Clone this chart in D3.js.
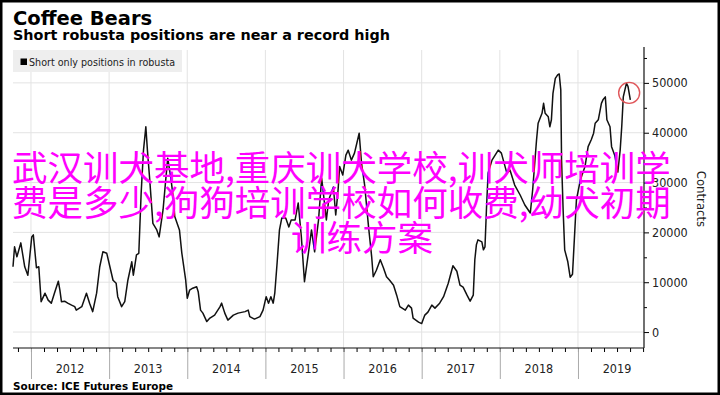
<!DOCTYPE html>
<html>
<head>
<meta charset="utf-8">
<script src="https://d3js.org/d3.v7.min.js"></script>
<style>
body {margin: 0; background: #fff;}
svg {display: block;}
.cond {font-family: "DejaVu Sans Condensed", "DejaVu Sans", sans-serif; font-stretch: condensed;}
</style>
</head>
<body>
<svg id="chart" width="720" height="395"></svg>
<script>
// decimal years of the weekly readings
const years = [
2011.77,2011.79,2011.82,2011.87,2011.92,2011.96,2012.01,2012.03,2012.07,2012.10,
2012.13,2012.18,2012.22,2012.26,2012.30,2012.35,2012.37,2012.39,2012.43,2012.47,
2012.52,2012.56,2012.58,2012.65,2012.71,2012.75,2012.79,2012.84,2012.88,2012.92,
2012.97,2013.01,2013.05,2013.09,2013.11,2013.16,2013.20,2013.24,2013.29,2013.31,
2013.35,2013.38,2013.41,2013.44,2013.47,2013.49,2013.52,2013.56,2013.61,2013.64,
2013.69,2013.73,2013.75,2013.79,2013.82,2013.84,2013.90,2013.93,2013.98,2014.00,
2014.03,2014.07,2014.12,2014.14,2014.17,2014.20,2014.25,2014.29,2014.35,2014.42,
2014.44,2014.48,2014.52,2014.59,2014.65,2014.74,2014.78,2014.80,2014.86,2014.93,
2014.97,2015.01,2015.04,2015.07,2015.10,2015.12,2015.15,2015.18,2015.21,2015.26,
2015.30,2015.33,2015.38,2015.42,2015.46,2015.50,2015.55,2015.59,2015.63,2015.68,
2015.72,2015.78,2015.81,2015.87,2015.90,2015.93,2015.95,2015.99,2016.03,2016.06,
2016.10,2016.14,2016.20,2016.23,2016.27,2016.32,2016.36,2016.38,2016.42,2016.47,
2016.51,2016.55,2016.59,2016.64,2016.68,2016.72,2016.79,2016.83,2016.87,2016.89,
2016.96,2017.00,2017.04,2017.08,2017.13,2017.17,2017.23,2017.28,2017.34,2017.40,
2017.45,2017.49,2017.53,2017.58,2017.62,2017.66,2017.68,2017.70,2017.72,2017.77,
2017.79,2017.81,2017.83,2017.85,2017.90,2017.94,2017.98,2018.02,2018.09,2018.13,
2018.19,2018.26,2018.32,2018.39,2018.42,2018.47,2018.49,2018.54,2018.56,2018.58,
2018.62,2018.64,2018.66,2018.68,2018.71,2018.74,2018.76,2018.78,2018.79,2018.81,
2018.83,2018.87,2018.90,2018.93,2018.96,2018.98,2019.03,2019.09,2019.13,2019.17,
2019.20,2019.22,2019.26,2019.30,2019.32,2019.35,2019.37,2019.41,2019.43,2019.47,
2019.51,2019.54,2019.56,2019.58,2019.62,2019.64,2019.67];

// short only positions in robusta (contracts)
const contracts = [
13100,17100,15100,17900,13100,11400,19100,19500,12900,13100,
6100,7800,6400,5800,7800,10200,8400,6100,6200,5800,
5400,5100,4400,5100,7800,5800,4100,7800,13100,16100,
15800,13100,10400,9800,7100,5100,6100,10400,14100,11400,
15500,15800,27900,36500,41200,36500,30500,21800,20500,19100,
24500,31500,34900,30900,27100,23200,20500,15900,10400,6800,
8400,8800,9100,8100,4400,3800,2100,2800,3400,5100,
5800,3800,2400,3400,3800,4100,4400,3100,2600,3100,
4400,7100,5800,7100,5800,7800,13900,20500,22900,22900,
21100,22500,22500,25900,19100,10100,15800,20500,16100,22500,
30900,22500,26500,29100,23500,28500,33200,31500,35500,36500,
34500,35900,39900,33900,29500,21100,15100,11100,12400,14500,
12900,11100,10400,9400,7400,5100,4400,5400,4800,2800,
2000,1700,3400,4000,5400,4800,5800,7100,9800,13300,
12200,9400,9000,7400,6200,7400,14500,17500,18500,18100,
16500,17100,25100,31900,34500,35500,36500,35900,31900,32500,
29500,27500,25500,23900,28500,38600,41900,43900,45900,43900,
43200,41200,42600,47900,50900,51600,51800,48600,34500,24500,
16500,14100,11000,11600,20500,26500,30500,33200,37200,38600,
39900,41900,42600,45900,46600,47200,42600,41200,37200,35500,
32100,36500,41200,47200,49900,49300,46600];

const yTicks = [0, 10000, 20000, 30000, 40000, 50000];
const yMinorTicks = [5000, 15000, 25000, 35000, 45000, 55000];
const yearLabels = [2012, 2013, 2014, 2015, 2016, 2017, 2018, 2019];
const highlight = [2019.655, 48000];   // the red ring around the latest peak
const overlayLines = ["武汉训犬基地,重庆训犬学校,训犬师培训学", "费是多少,狗狗培训学校如何收费,幼犬初期", "训练方案"];

const plotLeft = 13, plotRight = 644, plotTop = 50, plotBottom = 348;
const svg = d3.select("#chart");

var x = d3.scaleLinear().domain([2011.77, 2019.845]).range([plotLeft, plotRight]);
var y = d3.scaleLinear().domain([-3200, 56600]).range([plotBottom, plotTop]);

svg.append("rect").attr("width", 720).attr("height", 395).attr("fill", "#fff");

// grid
svg.append("g").selectAll("line").data(yearLabels).enter().append("line")
.attr("x1", d => x(d)).attr("x2", d => x(d))
.attr("y1", plotTop).attr("y2", plotBottom)
.attr("stroke", "#e3e3e3");
svg.append("g").selectAll("line").data(yTicks).enter().append("line")
.attr("x1", plotLeft).attr("x2", plotRight)
.attr("y1", d => y(d)).attr("y2", d => y(d))
.attr("stroke", "#e3e3e3");

// legend
svg.append("rect").attr("x", 13).attr("y", 50).attr("width", 169).attr("height", 22).attr("fill", "#eeeeee");
svg.append("rect").attr("x", 20.5).attr("y", 58.5).attr("width", 6.5).attr("height", 6.5).attr("fill", "#000");
svg.append("text").attr("class", "cond").attr("x", 29).attr("y", 66)
.attr("textLength", 146).attr("lengthAdjust", "spacingAndGlyphs")
.style("font-size", "11px").attr("fill", "#222")
.text("Short only positions in robusta");

// series
svg.append("path")
.datum(contracts)
.attr("fill", "none")
.attr("stroke", "#111")
.attr("stroke-width", 1.5)
.attr("stroke-linejoin", "round")
.attr("d", d3.line().x((d, i) => x(years[i])).y(d => y(d)));

svg.append("circle")
.attr("cx", x(highlight[0])).attr("cy", y(highlight[1])).attr("r", 10.5)
.attr("fill", "none").attr("stroke", "#e0575b").attr("stroke-width", 1.4);

// right axis
var yAxis = svg.append("g").attr("transform", "translate(" + plotRight + ",0)")
.call(d3.axisRight(y).tickValues(yTicks).tickSize(5).tickPadding(3).tickFormat(d => d));
yAxis.select(".domain").remove();
yAxis.selectAll("text").attr("class", "cond").style("font-size", "12.5px").attr("fill", "#222");
var yMinor = svg.append("g").attr("transform", "translate(" + plotRight + ",0)")
.call(d3.axisRight(y).tickValues(yMinorTicks).tickSize(3).tickFormat(""));
yMinor.select(".domain").remove();
svg.append("line").attr("x1", plotRight).attr("x2", plotRight).attr("y1", 47).attr("y2", plotBottom)
.attr("stroke", "#111").attr("stroke-width", 1.2);

svg.append("text").attr("class", "cond")
.attr("transform", "translate(697,199) rotate(90)")
.attr("text-anchor", "middle")
.style("font-size", "13px").attr("fill", "#222")
.text("Contracts");

// bottom axis
var monthTicks = d3.range(2011.8334, 2019.84, 1 / 6);
var xMinor = svg.append("g").attr("transform", "translate(0," + plotBottom + ")")
.call(d3.axisBottom(x).tickValues(monthTicks).tickSize(4).tickFormat(""));
xMinor.select(".domain").remove();
var xMajor = svg.append("g").attr("transform", "translate(0," + plotBottom + ")")
.call(d3.axisBottom(x).tickValues(yearLabels).tickSize(31).tickFormat(""));
xMajor.select(".domain").remove();
xMajor.selectAll("line").attr("stroke", "#aaa");
svg.append("line").attr("x1", plotLeft).attr("x2", plotRight).attr("y1", plotBottom).attr("y2", plotBottom)
.attr("stroke", "#111").attr("stroke-width", 1.2);

svg.append("g").selectAll("text").data(yearLabels).enter().append("text")
.attr("class", "cond")
.attr("x", d => x(d + 0.5)).attr("y", 373)
.attr("text-anchor", "middle")
.style("font-size", "12.5px").attr("fill", "#222")
.text(d => d);

// titles
svg.append("text").attr("x", 13).attr("y", 25)
.style("font-family", "DejaVu Sans").style("font-weight", "bold").style("font-size", "19.5px")
.text("Coffee Bears");
svg.append("text").attr("x", 13).attr("y", 40)
.attr("textLength", 377).attr("lengthAdjust", "spacingAndGlyphs")
.style("font-family", "DejaVu Sans").style("font-weight", "bold").style("font-size", "14.5px")
.text("Short robusta positions are near a record high");
svg.append("text").attr("class", "cond").attr("x", 13).attr("y", 390)
.attr("textLength", 160).attr("lengthAdjust", "spacingAndGlyphs")
.style("font-weight", "bold").style("font-size", "11px")
.text("Source: ICE Futures Europe");

// overlay caption
var cap = svg.append("g")
.style("font-family", "'Noto Sans CJK SC'").style("font-size", "35.5px").attr("fill", "#ff00ff");
cap.append("text").attr("x", 12).attr("y", 181).text(overlayLines[0]);
cap.append("text").attr("x", 12).attr("y", 216).text(overlayLines[1]);
cap.append("text").attr("x", 291).attr("y", 251).text(overlayLines[2]);

// frame
svg.append("rect").attr("x", 1.25).attr("y", 1.25).attr("width", 717.5).attr("height", 392.5)
.attr("fill", "none").attr("stroke", "#000").attr("stroke-width", 2.5);
</script>
</body>
</html>
